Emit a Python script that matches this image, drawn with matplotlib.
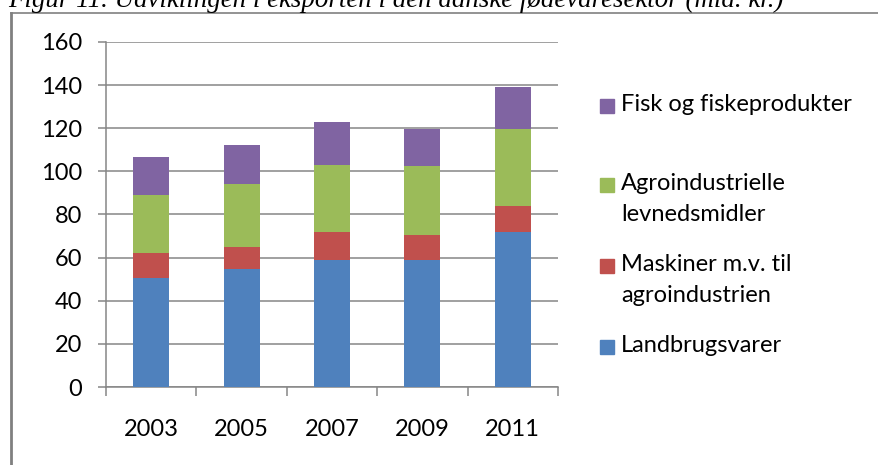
import matplotlib
matplotlib.use('Agg')
import matplotlib.pyplot as plt
from matplotlib.lines import Line2D
from matplotlib.patches import Rectangle
import numpy as np

years = ['2003', '2005', '2007', '2009', '2011']
landbrugsvarer = [50.7, 54.7, 59.0, 59.0, 71.9]
maskiner = [11.5, 10.2, 12.9, 11.5, 12.1]
agroindustrielle = [26.9, 29.3, 31.1, 32.0, 35.7]
fisk = [17.6, 18.0, 19.9, 17.2, 19.4]

series = [
    ('Landbrugsvarer', landbrugsvarer, '#4F81BD'),
    ('Maskiner m.v. til\nagroindustrien', maskiner, '#C0504D'),
    ('Agroindustrielle\nlevnedsmidler', agroindustrielle, '#9BBB59'),
    ('Fisk og fiskeprodukter', fisk, '#8064A2'),
]
title = 'Figur 11. Udviklingen i eksporten i den danske fødevaresektor (mia. kr.)'

plt.rcParams['font.family'] = ['Lato', 'DejaVu Sans']
W, H = 879, 465
fig = plt.figure(figsize=(W / 100, H / 100), dpi=100)

def fx(px):
    return px / W

def fy(px):
    return 1 - px / H

grid_c = '#868686'
fs = 17
ax = fig.add_axes([fx(106), fy(387), fx(558) - fx(106), fy(42) - fy(387)])
x = np.arange(len(years))
bottom = np.zeros(len(years))
for name, vals, col in series:
    ax.bar(x, vals, width=0.4, bottom=bottom, color=col, zorder=3)
    bottom += np.array(vals)

ax.set_xlim(-0.5, len(years) - 0.5)
ax.set_ylim(0, 160)
ax.set_yticks(range(0, 161, 20))
ax.yaxis.grid(True, color=grid_c, linewidth=1.1, zorder=0)
ax.set_xticks(x)
ax.set_xticklabels(years)
ax.set_xticks(np.arange(-0.5, len(years), 1.0), minor=True)
ax.tick_params(axis='x', which='major', length=0, pad=23, labelsize=fs)
ax.tick_params(axis='x', which='minor', length=6.5, width=1.1, color=grid_c, direction='out')
ax.tick_params(axis='y', length=6, width=1.1, color=grid_c, pad=11, labelsize=fs)
for s in ['top', 'right']:
    ax.spines[s].set_visible(False)
for s in ['left', 'bottom']:
    ax.spines[s].set_color(grid_c)
    ax.spines[s].set_linewidth(1.1)

# legend drawn by hand to match the uneven spacing of the original
leg_y = {'Fisk og fiskeprodukter': 106, 'Agroindustrielle\nlevnedsmidler': 185,
         'Maskiner m.v. til\nagroindustrien': 266, 'Landbrugsvarer': 347}
for name, vals, col in series:
    yc = leg_y[name]
    fig.patches.append(Rectangle((fx(600), fy(yc + 7)), fx(14), fy(yc - 7) - fy(yc + 7),
                                 transform=fig.transFigure, color=col))
    fig.text(fx(621), fy(yc - 12), name, fontsize=fs, va='top', ha='left',
             linespacing=1.6)

# outer border (partly cut off like the source)
fig.add_artist(Line2D([fx(11), fx(11)], [0, fy(13)], color='#808080', linewidth=2))
fig.add_artist(Line2D([fx(11), 1], [fy(13), fy(13)], color='#808080', linewidth=1.2))

# clipped caption above the frame
t = fig.text(fx(8), fy(7), title, fontsize=18, style='italic', family='Liberation Serif',
             va='baseline', ha='left')
r = fig.canvas.get_renderer()
w = t.get_window_extent(r).width
t.set_fontsize(18 * 775 / w)

fig.savefig('out.png', dpi=100)
